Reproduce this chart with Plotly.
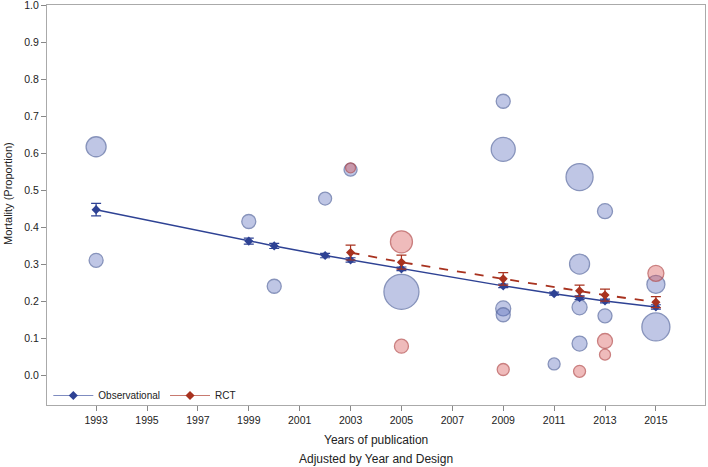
import plotly.graph_objects as go

# Observational studies (bubbles)
obs_year = [1993, 1993, 1999, 2000, 2002, 2003, 2005, 2009, 2009, 2009, 2009, 2011, 2012, 2012, 2012, 2012, 2013, 2013, 2015, 2015]
obs_mort = [0.617, 0.31, 0.415, 0.24, 0.477, 0.555, 0.225, 0.74, 0.61, 0.18, 0.163, 0.03, 0.535, 0.30, 0.183, 0.085, 0.443, 0.16, 0.245, 0.13]
obs_weight = [20, 14, 14, 14, 13, 13, 35, 14, 24, 15, 14, 12, 27, 20, 15, 15, 15, 14, 18, 28]

# RCT studies (bubbles)
rct_year = [2003, 2005, 2005, 2009, 2012, 2013, 2013, 2015]
rct_mort = [0.56, 0.36, 0.078, 0.015, 0.01, 0.092, 0.055, 0.275]
rct_weight = [10, 22, 14, 12, 12, 15, 11, 16]

# Adjusted estimates (Observational)
fit_obs_year = [1993, 1999, 2000, 2002, 2003, 2005, 2009, 2011, 2012, 2013, 2015]
fit_obs_mean = [0.447, 0.362, 0.349, 0.323, 0.311, 0.287, 0.241, 0.220, 0.209, 0.200, 0.184]
fit_obs_err = [0.017, 0.008, 0.007, 0.006, 0.006, 0.005, 0.005, 0.004, 0.005, 0.005, 0.006]

# Adjusted estimates (RCT)
fit_rct_year = [2003, 2005, 2009, 2012, 2013, 2015]
fit_rct_mean = [0.331, 0.305, 0.260, 0.228, 0.216, 0.197]
fit_rct_err = [0.020, 0.019, 0.017, 0.015, 0.016, 0.015]

x_ticks = list(range(1993, 2016, 2))
y_ticks = [round(i * 0.1, 1) for i in range(11)]

BLUE_FILL = "rgba(90,110,190,0.55)"
BLUE_EDGE = "#55669f"
RED_FILL = "rgba(215,80,80,0.55)"
RED_EDGE = "#b44a4a"
BLUE_LINE = "#2e4294"
RED_LINE = "#a8321f"

FONT = "Liberation Sans, Arial, sans-serif"

fig = go.Figure()

fig.add_trace(go.Scatter(
    x=obs_year, y=obs_mort, mode="markers", showlegend=False, hoverinfo="skip",
    marker=dict(size=obs_weight, sizemode="diameter", color=BLUE_FILL,
                line=dict(color=BLUE_EDGE, width=1.3)),
))
fig.add_trace(go.Scatter(
    x=rct_year, y=rct_mort, mode="markers", showlegend=False, hoverinfo="skip",
    marker=dict(size=rct_weight, sizemode="diameter", color=RED_FILL,
                line=dict(color=RED_EDGE, width=1.3)),
))

fig.add_trace(go.Scatter(
    x=fit_obs_year, y=fit_obs_mean, mode="lines+markers", name="Observational",
    showlegend=False,
    line=dict(color=BLUE_LINE, width=1.5),
    marker=dict(symbol="diamond", size=7, color=BLUE_LINE),
    error_y=dict(type="data", array=fit_obs_err, color=BLUE_LINE, thickness=1.2, width=5),
))
fig.add_trace(go.Scatter(
    x=fit_rct_year, y=fit_rct_mean, mode="lines+markers", name="RCT",
    showlegend=False,
    line=dict(color=RED_LINE, width=1.8, dash="dash"),
    marker=dict(symbol="diamond", size=7, color=RED_LINE),
    error_y=dict(type="data", array=fit_rct_err, color=RED_LINE, thickness=1.2, width=5),
))

# legend entries (thin solid key lines, as in the reference)
fig.add_trace(go.Scatter(
    x=[None], y=[None], mode="lines+markers", name="Observational",
    line=dict(color="#7f8cc0", width=1),
    marker=dict(symbol="diamond", size=7, color=BLUE_LINE),
))
fig.add_trace(go.Scatter(
    x=[None], y=[None], mode="lines+markers", name="RCT",
    line=dict(color="#c87a70", width=1),
    marker=dict(symbol="diamond", size=7, color=RED_LINE),
))

fig.update_layout(
    width=708, height=467,
    margin=dict(l=47, r=3, t=5, b=62),
    paper_bgcolor="white", plot_bgcolor="white",
    font=dict(family=FONT, size=10, color="#222"),
    showlegend=True,
    legend=dict(orientation="h", x=0.002, y=-0.0125, xanchor="left", yanchor="bottom",
                itemwidth=40,
                bgcolor="rgba(0,0,0,0)", font=dict(size=10, color="#222")),
    xaxis=dict(
        range=[1991.07, 2016.93], tickvals=x_ticks, ticktext=[str(v) for v in x_ticks],
        showgrid=False, zeroline=False, showline=True, linecolor="#aaaaaa", linewidth=1.2,
        mirror=True, ticks="outside", tickcolor="#888", ticklen=5, automargin=False,
        tickfont=dict(size=10.5), ticklabeloverflow="allow",
    ),
    yaxis=dict(
        range=[-0.081, 1.0002], tickvals=y_ticks, ticktext=[f"{v:.1f}" for v in y_ticks],
        showgrid=False, zeroline=False, showline=True, linecolor="#aaaaaa", linewidth=1.2,
        mirror=True, ticks="outside", tickcolor="#888", ticklen=5, automargin=False,
        tickfont=dict(size=10.5), ticklabeloverflow="allow",
    ),
    annotations=[
        dict(text="Mortality (Proportion)", xref="paper", yref="paper", x=-0.0593, y=0.53,
             xanchor="center", yanchor="middle", textangle=-90, showarrow=False,
             font=dict(size=11, family=FONT, color="#222")),
        dict(text="Years of publication", xref="paper", yref="paper", x=0.5, y=-0.0875,
             xanchor="center", yanchor="middle", showarrow=False,
             font=dict(size=12, family=FONT, color="#222")),
        dict(text="Adjusted by Year and Design", xref="paper", yref="paper", x=0.5, y=-0.135,
             xanchor="center", yanchor="middle", showarrow=False,
             font=dict(size=12, family=FONT, color="#222")),
    ],
)

fig.write_html("out.html", config={"displayModeBar": False},
               post_script="document.body.style.margin='0';document.body.style.overflow='hidden';")
